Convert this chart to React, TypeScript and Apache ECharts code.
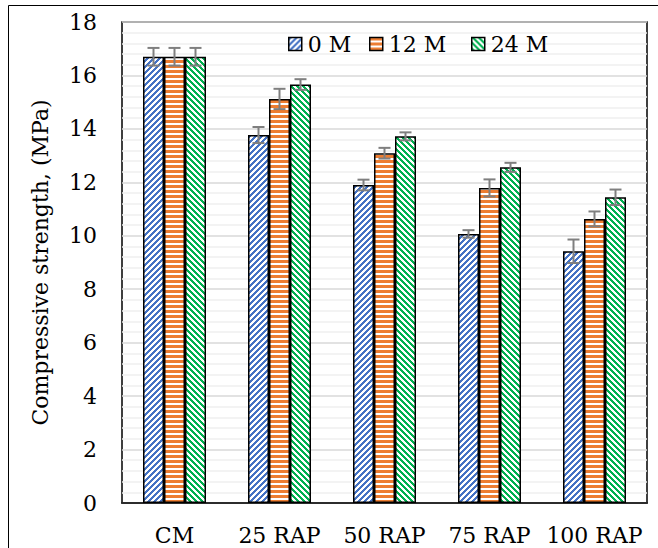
import React, { useEffect, useRef } from 'react';
import * as echarts from 'echarts';

const categories = ['CM', '25 RAP', '50 RAP', '75 RAP', '100 RAP'];
const seriesNames = ['0 M', '12 M', '24 M'];
const values0M = [16.7, 13.77, 11.9, 10.07, 9.42];
const values12M = [16.7, 15.12, 13.09, 11.79, 10.63];
const values24M = [16.7, 15.66, 13.72, 12.56, 11.44];
const err0M = [0.33, 0.3, 0.2, 0.14, 0.44];
const err12M = [0.33, 0.38, 0.2, 0.32, 0.28];
const err24M = [0.33, 0.2, 0.15, 0.17, 0.29];

const FONT = 'DejaVu Serif';
const BAR_W = 21;
const FS = 22;

function makePattern(color: string, kind: 'fwd' | 'back' | 'h') {
  const p = kind === 'h' ? 5 : 6;
  const c = document.createElement('canvas');
  c.width = p;
  c.height = p;
  const ctx = c.getContext('2d')!;
  const img = ctx.createImageData(p, p);
  const r = parseInt(color.slice(1, 3), 16);
  const g = parseInt(color.slice(3, 5), 16);
  const b = parseInt(color.slice(5, 7), 16);
  for (let y = 0; y < p; y++) {
    for (let x = 0; x < p; x++) {
      let on: boolean;
      if (kind === 'h') on = y % p < 3;
      else if (kind === 'fwd') on = (x + y) % p < 3;
      else on = (x - y + p * 10) % p < 3;
      const i = (y * p + x) * 4;
      img.data[i] = on ? r : 255;
      img.data[i + 1] = on ? g : 255;
      img.data[i + 2] = on ? b : 255;
      img.data[i + 3] = 255;
    }
  }
  ctx.putImageData(img, 0, 0);
  return { image: c, repeat: 'repeat' } as any;
}

export default function App() {
  const ref = useRef<HTMLDivElement>(null);
  useEffect(() => {
    const chart = echarts.init(ref.current!, null, { renderer: 'svg' });
    const vals = [values0M, values12M, values24M];
    const errs = [err0M, err12M, err24M];
    const pats = [
      makePattern('#4472C4', 'fwd'),
      makePattern('#ED7D31', 'h'),
      makePattern('#00B050', 'back'),
    ];
    const barSeries = seriesNames.map((name, si) => ({
      type: 'bar',
      name,
      data: vals[si],
      barWidth: BAR_W,
      barGap: '0%',
      itemStyle: { color: pats[si], borderColor: '#000', borderWidth: 1.5 },
      z: 2,
    }));
    const errSeries = seriesNames.map((_, si) => ({
      type: 'custom',
      data: categories.map((_c, i) => [i, vals[si][i], errs[si][i]]),
      z: 10,
      silent: true,
      renderItem: (_params: any, api: any) => {
        const xi = api.value(0);
        const v = api.value(1);
        const e = api.value(2);
        const top = api.coord([xi, v + e]);
        const bot = api.coord([xi, v - e]);
        const x = top[0] + (si - 1) * BAR_W;
        const style = { stroke: '#7f7f7f', lineWidth: 2 };
        const cap = 6;
        return {
          type: 'group',
          children: [
            { type: 'line', shape: { x1: x, y1: top[1], x2: x, y2: bot[1] }, style },
            { type: 'line', shape: { x1: x - cap, y1: top[1], x2: x + cap, y2: top[1] }, style },
            { type: 'line', shape: { x1: x - cap, y1: bot[1], x2: x + cap, y2: bot[1] }, style },
          ],
        };
      },
    }));
    const legendLefts = [288, 369, 471];
    chart.setOption({
      animation: false,
      backgroundColor: '#fff',
      textStyle: { fontFamily: FONT },
      grid: {
        left: 122,
        right: 11,
        top: 22,
        bottom: 45,
        show: true,
        borderColor: '#000',
        borderWidth: 1.5,
      },
      legend: seriesNames.map((n, i) => ({
        data: [n],
        left: legendLefts[i],
        top: 33,
        padding: 0,
        itemWidth: 13,
        itemHeight: 13,
        icon: 'rect',
        itemStyle: { borderColor: '#000', borderWidth: 1.5 },
        textStyle: { fontFamily: FONT, fontSize: FS, color: '#000', padding: [0, 0, 0, 1] },
      })),
      xAxis: {
        type: 'category',
        data: categories,
        axisLine: { show: true, lineStyle: { color: '#000', width: 1.5 } },
        axisTick: { show: false },
        axisLabel: { fontFamily: FONT, fontSize: FS, color: '#000', margin: 21, interval: 0 },
      },
      yAxis: {
        type: 'value',
        min: 0,
        max: 18,
        interval: 2,
        name: 'Compressive strength, (MPa)',
        nameLocation: 'middle',
        nameGap: 71,
        nameTextStyle: { fontFamily: FONT, fontSize: FS, color: '#000' },
        axisLine: { show: false },
        axisTick: { show: false },
        axisLabel: { fontFamily: FONT, fontSize: FS, color: '#000', margin: 25 },
        splitLine: { show: true, lineStyle: { color: '#d9d9d9', width: 1.5 } },
        minorTick: { show: true, splitNumber: 5, length: 0, lineStyle: { color: 'transparent' } },
        minorSplitLine: { show: true, lineStyle: { color: '#efefef', width: 1.5 } },
      },
      graphic: [
        {
          type: 'rect',
          shape: { x: 8.5, y: 5.5, width: 660, height: 560 },
          style: { fill: 'none', stroke: '#000', lineWidth: 1 },
          z: 100,
          silent: true,
        },
      ],
      series: [...barSeries, ...errSeries],
    });
    return () => chart.dispose();
  }, []);
  return (
    <div
      ref={ref}
      style={{ position: 'absolute', left: 0, top: 0, width: 658, height: 548 }}
    />
  );
}
